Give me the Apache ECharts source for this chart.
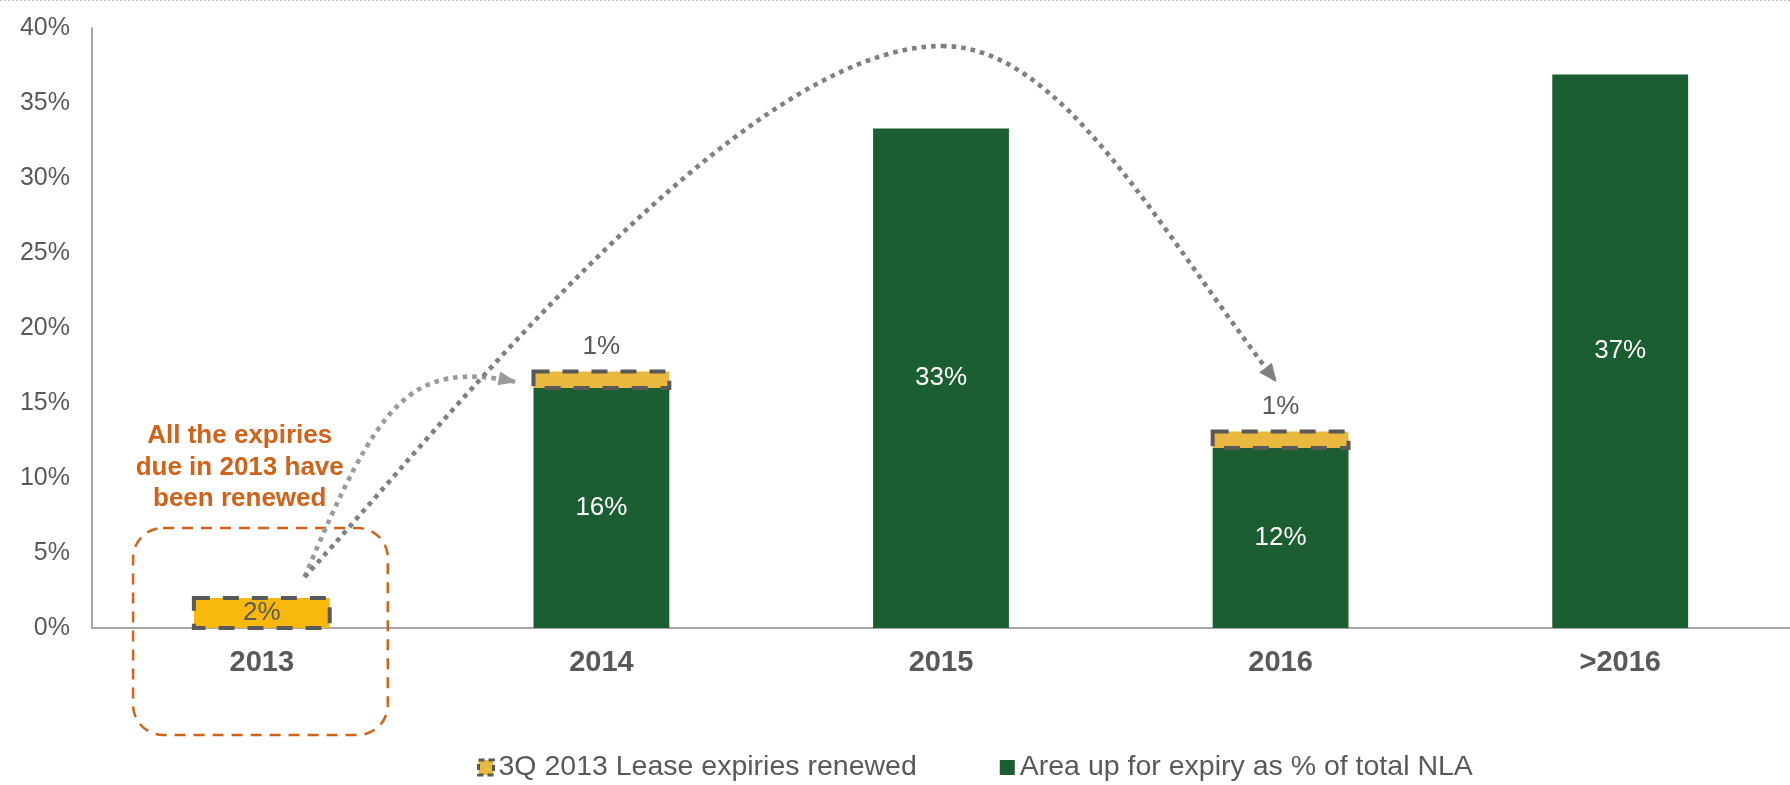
<!DOCTYPE html>
<html><head><meta charset="utf-8">
<script src="https://cdn.jsdelivr.net/npm/echarts@6/dist/echarts.min.js"></script>
<style>html,body{margin:0;padding:0;background:#fff}#c{width:1790px;height:785px}</style>
</head><body><div id="c"></div>
<script>
// ---- data ----
const categories = ['2013', '2014', '2015', '2016', '>2016'];
const areaUpForExpiry = [0, 16.0, 33.3, 12.0, 36.9];
const leaseRenewed = [2.0, 1.1, null, 1.1, null];
const renewedColors = ['#F9B90C', '#E9B83E', null, '#E9B83E', null];
const seriesNames = ['3Q 2013 Lease expiries renewed', 'Area up for expiry as % of total NLA'];
const yMin = 0, yMax = 40, yStep = 5;
const noteLines = ['All the expiries', 'due in 2013 have', 'been renewed'];
// annotation anchors in data space: [category index, percent]
const noteCenter = [-0.065, 10.7];
const noteBox = [[-0.379, 6.67], [0.371, -7.13]];
const smallArrow = [[0.126, 3.4], [0.344, 15.07], [0.432, 17.87], [0.75, 16.4]];
const bigArrowA = [[0.126, 3.4], [0.532, 13.4], [1.409, 38.8], [2.003, 38.8]];
const bigArrowB = [[2.003, 38.8], [2.356, 38.8], [2.632, 26.87], [2.988, 16.4]];

const FONT = '"Liberation Sans", Arial, sans-serif';
const GREY = '#595959';
const ORANGE = '#D06219';
const BAR_RATIO = 0.4;

const chart = echarts.init(document.getElementById('c'), null, {renderer: 'canvas'});
const pct = p => (p.value ? Math.round(p.value) + '%' : '');

const borderData = [];
leaseRenewed.forEach((v, i) => { if (v != null) borderData.push([i, areaUpForExpiry[i], areaUpForExpiry[i] + v]); });

chart.setOption({
  animation: false,
  backgroundColor: '#ffffff',
  textStyle: {fontFamily: FONT},
  grid: {left: 92, right: 0, top: 28, bottom: 157, containLabel: false},
  legend: {
    left: 472, top: 748, itemWidth: 15, itemHeight: 15, itemGap: 83,
    textStyle: {fontSize: 28.5, color: GREY, fontFamily: FONT},
    data: [
      {name: seriesNames[0], icon: 'rect', itemStyle: {color: '#E9B83E', borderColor: GREY, borderWidth: 3, borderType: [6, 4]}},
      {name: seriesNames[1], icon: 'rect'}
    ]
  },
  xAxis: {
    type: 'category', data: categories,
    axisLine: {show: true, lineStyle: {color: '#A6A6A6', width: 2}},
    axisTick: {show: false},
    axisLabel: {fontSize: 29, fontWeight: 'bold', color: GREY, margin: 20, fontFamily: FONT}
  },
  yAxis: {
    type: 'value', min: yMin, max: yMax, interval: yStep,
    axisLine: {show: true, lineStyle: {color: '#A6A6A6', width: 2}},
    axisTick: {show: false},
    splitLine: {show: false},
    axisLabel: {formatter: '{value}%', fontSize: 25, color: GREY, margin: 22, fontFamily: FONT}
  },
  series: [
    {
      name: seriesNames[1], type: 'bar', stack: 'total', barWidth: (BAR_RATIO * 100) + '%',
      itemStyle: {color: '#1B5E31'},
      label: {show: true, position: 'inside', color: '#ffffff', fontSize: 26, formatter: pct, fontFamily: FONT},
      data: areaUpForExpiry
    },
    {
      name: seriesNames[0], type: 'bar', stack: 'total', barWidth: (BAR_RATIO * 100) + '%',
      itemStyle: {color: '#E9B83E'},
      label: {show: true, color: GREY, fontSize: 26, formatter: pct, distance: 12, fontFamily: FONT},
      data: leaseRenewed.map((v, i) => v == null ? '-' : {
        value: v,
        itemStyle: {color: renewedColors[i]},
        label: {position: i === 0 ? 'inside' : 'top'}
      })
    },
    {
      name: 'renewedBorder', type: 'custom', silent: true, z: 5, clip: false,
      data: borderData,
      encode: {x: 0, y: [1, 2]},
      renderItem: (params, api) => {
        const i = api.value(0);
        const lo = api.coord([i, api.value(1)]);
        const hi = api.coord([i, api.value(2)]);
        const w = api.size([1, 0])[0] * BAR_RATIO;
        return {
          type: 'rect',
          shape: {x: hi[0] - w / 2, y: hi[1], width: w, height: lo[1] - hi[1]},
          style: {fill: null, stroke: GREY, lineWidth: 4, lineDash: [16, 13]}
        };
      }
    }
  ]
});

// ---- annotations, anchored to the chart's own scales ----
function toPx(pt) {
  const a = chart.convertToPixel({gridIndex: 0}, [0, pt[1]]);
  const b = chart.convertToPixel({gridIndex: 0}, [1, pt[1]]);
  return [a[0] + (b[0] - a[0]) * pt[0], a[1]];
}
function bezier(pts, color) {
  const p = pts.map(toPx);
  return {
    type: 'bezierCurve', silent: true, z: 50,
    shape: {x1: p[0][0], y1: p[0][1], cpx1: p[1][0], cpy1: p[1][1], cpx2: p[2][0], cpy2: p[2][1], x2: p[3][0], y2: p[3][1]},
    style: {stroke: color, lineWidth: 4.6, lineDash: [4.6, 5], fill: null, lineCap: 'butt'}
  };
}
function arrowHead(pts, color, len, hw) {
  const p = pts.map(toPx);
  const tip = p[3], from = p[2];
  let dx = tip[0] - from[0], dy = tip[1] - from[1];
  const d = Math.hypot(dx, dy); dx /= d; dy /= d;
  const bx = tip[0] - dx * len, by = tip[1] - dy * len;
  return {
    type: 'polygon', silent: true, z: 51,
    shape: {points: [tip, [bx - dy * hw, by + dx * hw], [bx + dy * hw, by - dx * hw]]},
    style: {fill: color}
  };
}
const c = toPx(noteCenter);
const b0 = toPx(noteBox[0]), b1 = toPx(noteBox[1]);
chart.setOption({
  graphic: [
    {type: 'line', silent: true, shape: {x1: 0, y1: 0.5, x2: 1790, y2: 0.5}, style: {stroke: '#BFBFBF', lineWidth: 1, lineDash: [2, 2]}},
    {type: 'rect', silent: true, z: 40,
      shape: {x: b0[0], y: b0[1], width: b1[0] - b0[0], height: b1[1] - b0[1], r: 30},
      style: {fill: null, stroke: ORANGE, lineWidth: 2.5, lineDash: [11, 8]}},
    {type: 'text', silent: true, z: 40, x: c[0], y: c[1],
      style: {text: noteLines.join('\n'), fill: ORANGE, fontSize: 26, fontWeight: 'bold', fontFamily: FONT,
        align: 'center', verticalAlign: 'middle', lineHeight: 31.5}},
    bezier(smallArrow, '#9A9A9A'),
    arrowHead(smallArrow, '#9A9A9A', 18, 7),
    bezier(bigArrowA, '#808080'),
    bezier(bigArrowB, '#808080'),
    arrowHead(bigArrowB, '#808080', 18, 8)
  ]
});
</script>
</body></html>
